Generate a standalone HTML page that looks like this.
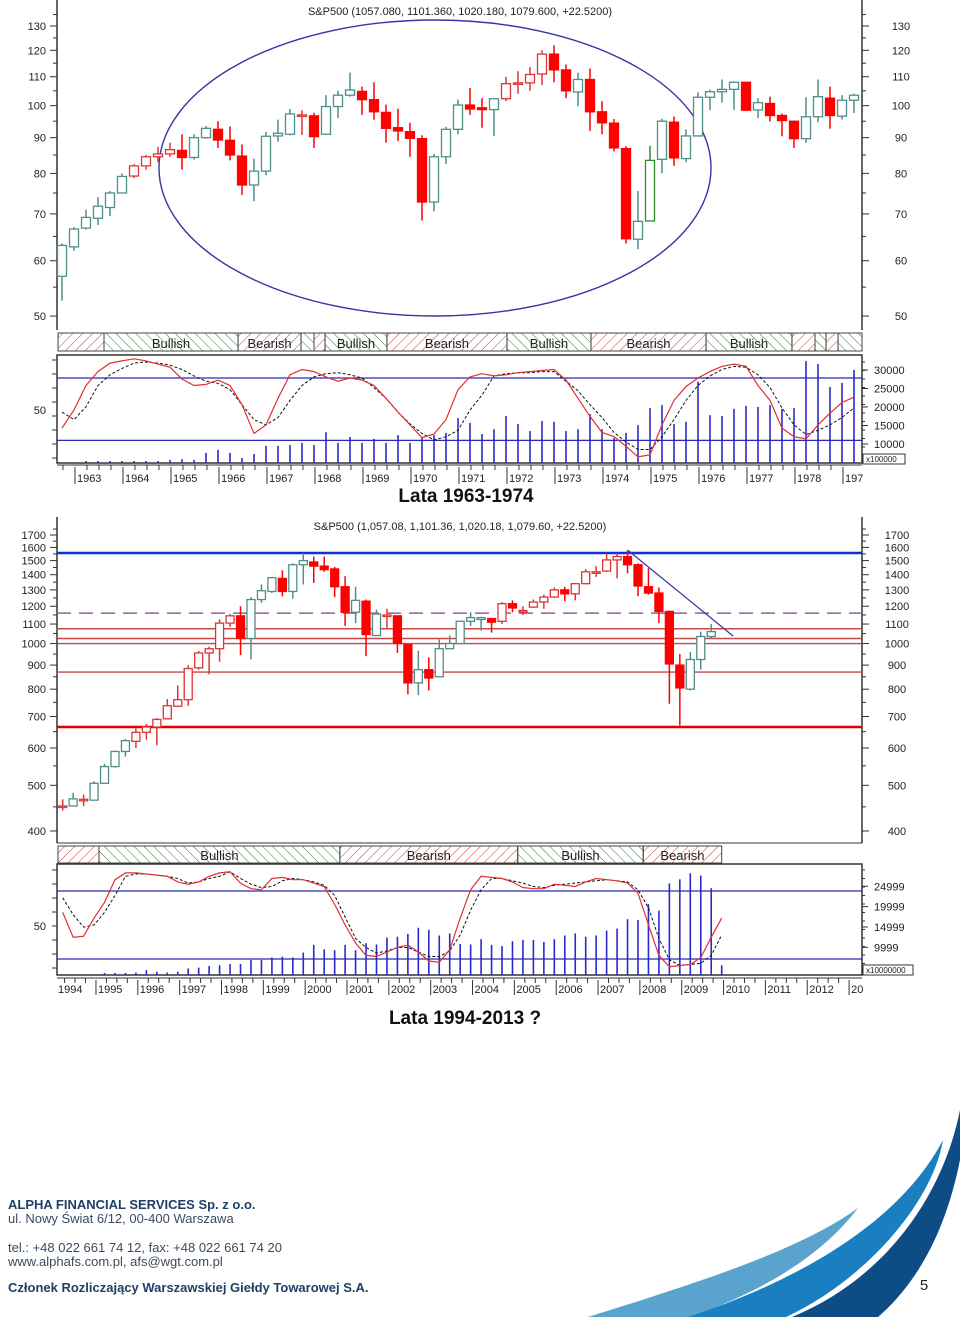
<!DOCTYPE html>
<html><head><meta charset="utf-8"><style>
html,body{margin:0;padding:0;background:#fff;}
svg{display:block;font-family:"Liberation Sans",sans-serif;}
.tk{font-size:11px;fill:#222;}
.ft{font-family:"Liberation Sans","DejaVu Sans",sans-serif;font-size:13px;fill:#3b4b5e;}
</style></head><body>
<svg id="page" width="960" height="1317" viewBox="0 0 960 1317" xmlns="http://www.w3.org/2000/svg">
<defs>
<pattern id="hr" width="7" height="7" patternUnits="userSpaceOnUse" patternTransform="rotate(45)"><line x1="0" y1="0" x2="0" y2="7" stroke="#c84040" stroke-width="1"/></pattern>
<pattern id="hg" width="7" height="7" patternUnits="userSpaceOnUse" patternTransform="rotate(-45)"><line x1="0" y1="0" x2="0" y2="7" stroke="#3a7a3a" stroke-width="1"/></pattern>
</defs>
<g id="top"></g>
<g id="bot"></g>
<text x="466" y="502" text-anchor="middle" font-size="19" font-weight="bold" fill="#111">Lata 1963-1974</text>
<text x="465" y="1024" text-anchor="middle" font-size="19" font-weight="bold" fill="#111">Lata 1994-2013 ?</text>
<g>
<text class="ft" x="8" y="1209" font-weight="bold" style="fill:#1f3f66">ALPHA FINANCIAL SERVICES Sp. z o.o.</text>
<text class="ft" x="8" y="1223">ul. Nowy Świat 6/12, 00-400 Warszawa</text>
<text class="ft" x="8" y="1252">tel.: +48 022 661 74 12, fax: +48 022 661 74 20</text>
<text class="ft" x="8" y="1266">www.alphafs.com.pl, afs@wgt.com.pl</text>
<text class="ft" x="8" y="1292" font-weight="bold" style="fill:#1f3f66">Członek Rozliczający Warszawskiej Giełdy Towarowej S.A.</text>
<path d="M588 1317 C700 1282 800 1250 858 1208 C820 1258 760 1292 690 1317 Z" fill="#5aa3cf"/>
<path d="M688 1317 C800 1280 900 1222 943 1140 C932 1205 862 1282 786 1317 Z" fill="#1a7fc0"/>
<path d="M792 1317 C882 1280 942 1200 960 1110 L960 1160 C945 1235 915 1285 878 1317 Z" fill="#0e4c85"/>
<text x="924" y="1290" text-anchor="middle" font-size="15" fill="#222">5</text>
</g>
</svg>
<script>
// ---------- TOP CHART DATA (quarterly S&P500 1963-1979) ----------
var topOpen=[57,62.8,66.8,69,71.5,75,79.3,82,84.5,85.3,86.3,84.3,90,92.5,89.2,84.7,77,80.6,90.5,91,97,96.7,91,99.7,103.5,104.8,102,97.8,93,91.8,89.7,72.8,84.5,92.5,100.2,99.3,98.7,102.3,107.5,107.8,111,118.5,112.5,104.6,109,98,94.4,86.8,64.4,68.4,83.8,94.7,84,90.5,102.8,104.7,105.5,108,98.6,100.7,96.8,95,89.7,96.4,102.5,96.6,101.8];
var topHigh=[63.5,67,71,74,75.5,80,82.5,85,87.3,88.5,91,91,93.5,95,93.4,88,84,91.7,95.5,98.9,98.5,97.7,103.5,105,111.5,106.5,108,100.3,99,94.5,90.7,85.3,93.3,102,106,102.5,102.5,110,112,113.5,120,122,114.5,111.5,113,101.5,95.7,87.5,75.5,87.6,95.8,96.5,92.5,104.5,105.4,109,108.3,108,102.5,103,97.4,95,102.8,109,106.5,103.5,104];
var topLow=[52.6,62,66.5,67.5,69.5,75,78.8,81,83,84.5,81,83.7,89.7,87,83.5,74.5,73,79.5,88.8,90.7,90.8,87,91,96,103,97,95.5,88.5,89,84.5,68.5,70.6,82.5,91,97,93,90.5,101.5,104,105,107,108,102.5,99.8,92,91,86,63.5,62.3,68.4,80,82,83,90.5,98.5,101,98.6,98.3,96,94.9,90.4,87,88.5,94.7,92.7,95.5,97.6];
var topClose=[63.1,66.6,69.2,71.8,75,79.2,82,84.5,85.3,86.5,84.3,90,92.8,89.3,85,77,80.6,90.4,91.3,97.3,96.7,90.3,99.7,103.5,105.3,102,98,92.8,92,89.8,72.8,84.5,92.5,100.2,98.9,98.7,102.3,107.5,107.8,110.8,118.5,112.5,105,109,98,94.5,87,64.5,68.3,83.5,95,84.2,90.5,102.8,104.7,105.5,108,98.5,101,96.8,95.2,89.7,96.4,103,96.8,101.8,103.5];
var topType="uuuuuu"+"rrrr"+"d"+"uu"+"ddd"+"uuuu"+"r"+"d"+"uuu"+"dddddd"+"uuu"+"dd"+"u"+"rrrr"+"dd"+"u"+"dddd"+"u"+"g"+"u"+"d"+"uuuuu"+"d"+"u"+"ddd"+"uu"+"d"+"uu";
var topOscFast=[33,50,73,86,94,96,98,96,93,90,79,73,74,78,73,55,28,36,61,83,88,86,81,77,80,78,73,61,48,36,24,27.5,41,69,81,84,82,83,85,86,87,88,78,61,44,29,25,16,6,8,36,59,72,80,86,91,93,91,73,59,33,25,23,36,47,57,62];
var topOscSlow=[48,41,53,73,83,89,94,95,94,92,88,82,77,75,69,55,41,36,43,59,73,81,84,85,83,80,71,61,48,37,28,22,25,31,50,64,82,84,85,85,86,86,77,68,55,43,29,20,13,13,25,41,59,73,82,88,91,90,83,71,52,36,27,31,36,43,52];
var topVolStart=2;
var topVolume=[4300,4600,5000,5000,5000,4600,4600,5700,5900,5700,7600,8400,7600,6200,7300,9500,9500,9700,10300,9700,13200,10300,11900,10300,11400,10300,12400,10300,11600,12400,13000,17000,15700,12700,14000,17600,15400,13500,16200,16000,13500,14000,18100,14000,11600,13000,15100,19700,20500,15400,16000,26800,17800,17600,19500,20300,20000,20500,19500,19700,32400,31600,25400,26500,30000];
var topPriceTicks=[130,120,110,100,90,80,70,60,50];
var topVolTicks=[30000,25000,20000,15000,10000];
var topYears=["1963","1964","1965","1966","1967","1968","1969","1970","1971","1972","1973","1974","1975","1976","1977","1978","197"];
var topBandStart=[-0.33,3.5,14.67,19.92,21,21.92,27.08,37.08,44.08,53.67,60.83,62.75,63.67,64.67];
var topBandEnd=[3.5,14.67,19.92,21,21.92,27.08,37.08,44.08,53.67,60.83,62.75,63.67,64.67,66.67];
var topBandKind=["r","g","r","g","r","g","r","g","r","g","r","g","r","g"];
var topBandLabel=["","Bullish","Bearish","","","Bullish","Bearish","Bullish","Bearish","Bullish","","","",""];

// ---------- BOTTOM CHART DATA (quarterly S&P500 1994-2009) ----------
var botOpen=[452,452,467,465,505,548,590,620,648,665,692,736,760,888,955,975,1105,1145,1025,1240,1290,1375,1290,1470,1490,1460,1440,1320,1165,1230,1040,1150,1145,995,825,880,850,975,1000,1115,1125,1130,1115,1215,1175,1195,1225,1255,1300,1275,1340,1420,1425,1505,1530,1470,1320,1280,1170,900,800,925,1035];
var botHigh=[467,482,478,510,555,592,627,660,675,695,762,815,900,965,985,1125,1155,1200,1255,1335,1385,1430,1480,1555,1530,1530,1455,1390,1320,1240,1180,1185,1145,995,965,935,1020,1040,1115,1165,1140,1130,1225,1235,1200,1240,1270,1315,1320,1345,1440,1460,1555,1555,1575,1480,1445,1315,1175,950,960,1060,1100];
var botLow=[442,452,452,465,505,545,575,600,625,608,692,733,738,880,860,915,1085,945,925,1220,1280,1260,1245,1335,1345,1420,1255,1090,1105,940,1040,1080,955,780,777,795,850,975,1000,1090,1065,1055,1100,1165,1150,1190,1185,1250,1230,1235,1335,1385,1420,1375,1410,1260,1270,1105,745,670,795,880,1025];
var botClose=[451,468,466,505,548,590,622,648,665,690,738,760,885,955,975,1105,1145,1025,1240,1295,1380,1290,1470,1500,1460,1435,1320,1165,1235,1045,1155,1145,1000,825,880,845,975,1000,1115,1135,1135,1110,1215,1190,1172,1225,1255,1300,1275,1340,1420,1418,1505,1530,1470,1325,1280,1170,905,805,925,1035,1060];
var botType="r"+"u"+"r"+"uuuu"+"rrrrrrrrrr"+"d"+"uuu"+"d"+"uu"+"dddd"+"u"+"d"+"u"+"r"+"dd"+"u"+"d"+"uuuuu"+"d"+"r"+"d"+"r"+"rrr"+"d"+"rrrrr"+"dddddd"+"uuu";
var botOscFast=[62,40,41,57,71,91,97,97,96,95,94,89,87,89,94,97,98,88,83,82,92,93,91,91,88,85,69,51,35,24,23,27,31,33,27,19,18,29,57,82,94,93,92,89,84,83,83,87,86,85,89,92,91,90,88,79,51,24,14,15,16,22,40,57];
var botOscSlow=[75,60,49,51,62,77,94,96,96,95,94,92,88,89,92,94,98,92,87,84,85,90,92,91,89,86,77,58,39,31,26,28,31,31,27,23,23,28,42,64,82,92,92,90,88,85,84,86,87,88,89,90,91,90,89,82,66,39,20,15,16,17,24,42];
var botVolStart=4;
var botVolume=[3200,3200,3200,3800,4400,4000,3800,4000,4800,5000,5400,5600,5900,5900,6900,6900,7500,7700,7500,8700,10600,9500,9300,10600,9300,11000,10700,12400,12600,13300,14800,14300,12900,13400,10800,10700,12000,10600,10300,11500,11800,11800,11300,12000,12900,13400,12600,12900,14100,14600,16900,16700,20600,19000,25700,26700,28200,27600,24500,5600];
var botPriceTicks=[1700,1600,1500,1400,1300,1200,1100,1000,900,800,700,600,500,400];
var botVolTicks=[24999,19999,14999,9999];
var botYears=["1994","1995","1996","1997","1998","1999","2000","2001","2002","2003","2004","2005","2006","2007","2008","2009","2010","2011","2012","20"];
var botBandStart=[-0.45,3.47,26.5,43.5,55.5];
var botBandEnd=[3.47,26.5,43.5,55.5,63.0];
var botBandKind=["r","g","r","g","r"];
var botBandLabel=["","Bullish","Bearish","Bullish","Bearish"];
var botLevels=[1075,1025,1000,870];

var NS="http://www.w3.org/2000/svg";
function mk(parent,tag,attrs,txt){var e=document.createElementNS(NS,tag);for(var k in attrs)e.setAttribute(k,attrs[k]);if(txt!==undefined)e.textContent=txt;parent.appendChild(e);return e;}
var COL={u:"#4f8f88",r:"#e03535",d:"#ff0000",g:"#2e8b2e"};

function xT(i){return 62+12*i;}
function yT(v){return 26+Math.log10(130/v)*699;}
function yOT(v){return 410-(v-50)*1.067;}
function yVT(v){return 444-(v-10000)*0.0037;}
function xB(i){return 62.7+10.46*i;}
function yB(v){return 535+Math.log10(1700/v)*471;}
function yOB(v){return 926-(v-50)*1.13;}
function yVB(v){return 988-v*0.00407;}

function drawCandles(g,O,H,L,C,T,xf,yf,w,prefix){
  for(var i=0;i<O.length;i++){
    var t=T[i]||"u",col=COL[t],x=xf(i);
    var cg=mk(g,"g",{});
    
    
    mk(cg,"line",{x1:x,x2:x,y1:yf(H[i]),y2:yf(L[i]),stroke:col,"stroke-width":1.5});
    var y1=yf(Math.max(O[i],C[i])),y2=yf(Math.min(O[i],C[i]));
    var hgt=Math.max(1.5,y2-y1);
    mk(cg,"rect",{x:x-w/2,y:y1,width:w,height:hgt,fill:(t=="d"?col:"#fff"),stroke:col,"stroke-width":1.3});
  }
}
function polyline(g,arr,xf,yf,attrs,name){
  var p=[];for(var i=0;i<arr.length;i++)p.push(xf(i).toFixed(1)+","+yf(arr[i]).toFixed(1));
  attrs.points=p.join(" ");attrs.fill="none";
  var e=mk(g,"polyline",attrs);
  
  
}
function bands(g,S,E,K,Lb,xf,y0,y1,prefix){
  for(var i=0;i<S.length;i++){
    var a=xf(S[i]),b=xf(E[i]);
    var r=mk(g,"rect",{x:a,y:y0,width:b-a,height:y1-y0,fill:(K[i]=="r"?"url(#hr)":"url(#hg)"),stroke:"#444","stroke-width":1});
    
    
    if(Lb[i]){var t=mk(g,"text",{x:(a+b)/2,y:y1-3,"text-anchor":"middle","font-size":"13",fill:"#222"},Lb[i]);
      
      }
  }
}

(function(){
  var g=document.getElementById("top");
  mk(g,"line",{x1:57,x2:57,y1:0,y2:330,stroke:"#333","stroke-width":1.5});
  mk(g,"line",{x1:862,x2:862,y1:0,y2:330,stroke:"#333","stroke-width":1.5});
  for(var v=50;v<=135;v+=5){var y=yT(v);var maj=(v%10==0);
    mk(g,"line",{x1:maj?50:53,x2:57,y1:y,y2:y,stroke:"#333"});
    mk(g,"line",{x1:862,x2:maj?869:866,y1:y,y2:y,stroke:"#333"});}
  topPriceTicks.forEach(function(v){
    var t=mk(g,"text",{x:46,y:yT(v)+4,"text-anchor":"end","class":"tk"},String(v));
    
    
    var t2=mk(g,"text",{x:901,y:yT(v)+4,"text-anchor":"middle","class":"tk"},String(v));
    
    
  });
  var ti=mk(g,"text",{x:460,y:15,"text-anchor":"middle","font-size":"11",fill:"#222"},"S&P500 (1057.080, 1101.360, 1020.180, 1079.600, +22.5200)");
  
  var el=mk(g,"ellipse",{cx:435,cy:168,rx:276,ry:148,fill:"none",stroke:"#3535a5","stroke-width":1.4});
  
  drawCandles(g,topOpen,topHigh,topLow,topClose,topType,xT,yT,9,'top');
  bands(g,topBandStart,topBandEnd,topBandKind,topBandLabel,xT,333,351,'top');
  mk(g,"rect",{x:57,y:355,width:805,height:108,fill:"none",stroke:"#333","stroke-width":1.5});
  for(var k=0;k<8;k++){var yy=360+k*14;mk(g,"line",{x1:52,x2:57,y1:yy,y2:yy,stroke:"#333"});}
  var l50=mk(g,"text",{x:46,y:414,"text-anchor":"end","class":"tk"},"50");
  
  for(var i=0;i<topVolume.length;i++){var x=xT(i+topVolStart),yy=Math.min(461,yVT(topVolume[i]));
    var b=mk(g,"line",{x1:x,x2:x,y1:463,y2:yy,stroke:"#2a2acc","stroke-width":1.6});
    }
  mk(g,"line",{x1:57,x2:862,y1:yOT(80),y2:yOT(80),stroke:"#2a2ab5","stroke-width":1.3});
  mk(g,"line",{x1:57,x2:862,y1:yOT(21.5),y2:yOT(21.5),stroke:"#2a2ab5","stroke-width":1.3});
  polyline(g,topOscSlow,xT,yOT,{stroke:"#111","stroke-width":1,"stroke-dasharray":"3,2"},'top-osc-slow');
  polyline(g,topOscFast,xT,yOT,{stroke:"#e03030","stroke-width":1.2},'top-osc-fast');
  topVolTicks.forEach(function(v){var y=yVT(v);
    mk(g,"line",{x1:862,x2:868,y1:y,y2:y,stroke:"#333"});
    var t=mk(g,"text",{x:874,y:y+4,"class":"tk"},String(v));
    });
  for(var k=0;k<12;k++){var yy=362+k*8.5;mk(g,"line",{x1:862,x2:865,y1:yy,y2:yy,stroke:"#333"});}
  mk(g,"rect",{x:863,y:454,width:42,height:10,fill:"#fff",stroke:"#333"});
  mk(g,"text",{x:866,y:462,"font-size":"8",fill:"#222"},"x100000");
  mk(g,"line",{x1:57,x2:862,y1:465,y2:465,stroke:"#333"});
  for(var j=0;j<topYears.length;j++){var t0=1.08+4*j,x=xT(t0);
    mk(g,"line",{x1:x,x2:x,y1:467,y2:484,stroke:"#333"});
    for(var q=1;q<4;q++){var xq=xT(t0-q);if(xq>57)mk(g,"line",{x1:xq,x2:xq,y1:465,y2:470,stroke:"#333"});}
    var t=mk(g,"text",{x:x+2,y:482,"class":"tk"},topYears[j]);
    }
})();

(function(){
  var g=document.getElementById("bot");
  mk(g,"line",{x1:57,x2:57,y1:517,y2:843,stroke:"#333","stroke-width":1.5});
  mk(g,"line",{x1:862,x2:862,y1:517,y2:843,stroke:"#333","stroke-width":1.5});
  mk(g,"line",{x1:57,x2:862,y1:843,y2:843,stroke:"#333","stroke-width":1});
  for(var v=400;v<=1750;v+=50){var y=yB(v);var maj=(v%100==0);
    mk(g,"line",{x1:maj?50:53,x2:57,y1:y,y2:y,stroke:"#333"});
    mk(g,"line",{x1:862,x2:maj?869:866,y1:y,y2:y,stroke:"#333"});}
  botPriceTicks.forEach(function(v){
    var t=mk(g,"text",{x:46,y:yB(v)+4,"text-anchor":"end","class":"tk"},String(v));
    
    var t2=mk(g,"text",{x:897,y:yB(v)+4,"text-anchor":"middle","class":"tk"},String(v));
    });
  var ti=mk(g,"text",{x:460,y:530,"text-anchor":"middle","font-size":"11",fill:"#222"},"S&P500 (1,057.08, 1,101.36, 1,020.18, 1,079.60, +22.5200)");
  
  var r1=mk(g,"line",{x1:57,x2:862,y1:yB(1557),y2:yB(1557),stroke:"#1030d0","stroke-width":2.5});
  
  var d1=mk(g,"line",{x1:57,x2:862,y1:yB(1160),y2:yB(1160),stroke:"#9060a0","stroke-width":1.5,"stroke-dasharray":"14,8"});
  
  botLevels.forEach(function(v){var l=mk(g,"line",{x1:57,x2:862,y1:yB(v),y2:yB(v),stroke:"#c84848","stroke-width":1.4});
    });
  var s1=mk(g,"line",{x1:57,x2:862,y1:yB(665),y2:yB(665),stroke:"#e00000","stroke-width":2.5});
  
  var tl=mk(g,"line",{x1:xB(54),y1:yB(1580),x2:xB(64.1),y2:yB(1037),stroke:"#3a3aa5","stroke-width":1.3});
  
  drawCandles(g,botOpen,botHigh,botLow,botClose,botType,xB,yB,8,'bottom');
  bands(g,botBandStart,botBandEnd,botBandKind,botBandLabel,xB,846,863,'bottom');
  mk(g,"rect",{x:57,y:864,width:805,height:111,fill:"none",stroke:"#333","stroke-width":1.5});
  for(var k=0;k<8;k++){var yy=870+k*14;mk(g,"line",{x1:52,x2:57,y1:yy,y2:yy,stroke:"#333"});}
  var l50=mk(g,"text",{x:46,y:930,"text-anchor":"end","class":"tk"},"50");
  
  for(var i=0;i<botVolume.length;i++){var x=xB(i+botVolStart),yy=Math.min(973,yVB(botVolume[i]));
    var b=mk(g,"line",{x1:x,x2:x,y1:975,y2:yy,stroke:"#2a2acc","stroke-width":1.6});
    }
  mk(g,"line",{x1:57,x2:862,y1:891,y2:891,stroke:"#2a2ab5","stroke-width":1.3});
  mk(g,"line",{x1:57,x2:862,y1:959,y2:959,stroke:"#2a2ab5","stroke-width":1.3});
  polyline(g,botOscSlow,xB,yOB,{stroke:"#111","stroke-width":1,"stroke-dasharray":"3,2"},'bottom-osc-slow');
  polyline(g,botOscFast,xB,yOB,{stroke:"#e03030","stroke-width":1.2},'bottom-osc-fast');
  botVolTicks.forEach(function(v){var y=yVB(v);
    mk(g,"line",{x1:862,x2:868,y1:y,y2:y,stroke:"#333"});
    var t=mk(g,"text",{x:874,y:y+4,"class":"tk"},String(v));
    });
  for(var k=0;k<12;k++){var yy=870+k*8.5;mk(g,"line",{x1:862,x2:865,y1:yy,y2:yy,stroke:"#333"});}
  mk(g,"rect",{x:863,y:965,width:50,height:10,fill:"#fff",stroke:"#333"});
  mk(g,"text",{x:866,y:973,"font-size":"8",fill:"#222"},"x10000000");
  mk(g,"line",{x1:57,x2:862,y1:978,y2:978,stroke:"#333"});
  for(var j=0;j<botYears.length;j++){var t0=-0.82+4*j,x=xB(t0);
    if(x>57)mk(g,"line",{x1:x,x2:x,y1:980,y2:995,stroke:"#333"});
    for(var q=1;q<4;q++){var xq=xB(t0-q);if(xq>57)mk(g,"line",{x1:xq,x2:xq,y1:978,y2:983,stroke:"#333"});}
    var t=mk(g,"text",{x:Math.max(58,x+2),y:993,"class":"tk"},botYears[j]);
    }
})();
</script>
</body></html>
